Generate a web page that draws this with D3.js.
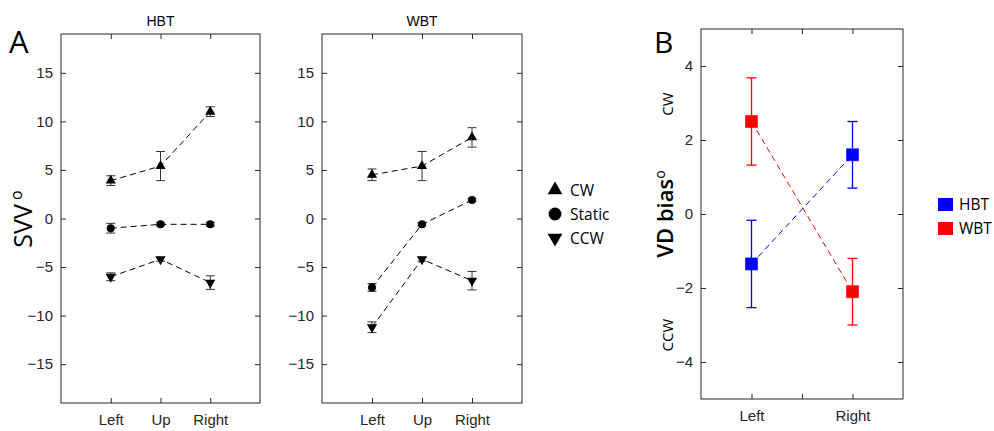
<!DOCTYPE html>
<html lang="en">
<head>
<meta charset="UTF-8">
<title>SVV / VD bias</title>
<script src="https://cdn.jsdelivr.net/npm/d3@7"></script>
<style>
  body { margin: 0; background: #fff; }
  .tick text { font-family: "Liberation Sans", Arial, sans-serif; font-size: 15px; fill: #262626; }
  .tick line { stroke: #262626; }
  .lab { font-family: "Open Sans", sans-serif; fill: #000; }
</style>
</head>
<body>
<script>
// ---- data ----
var conditions = ["Left", "Up", "Right"];
var rotations = ["CW", "Static", "CCW"];
var svvTicks = [-15, -10, -5, 0, 5, 10, 15];

// rows: CW, Static, CCW ; cols: Left, Up, Right
var hbtMeans = [[3.9, 5.4, 11.0], [-1.0, -0.6, -0.6], [-6.0, -4.2, -6.6]];
var hbtErrs  = [[0.5, 1.5, 0.5],  [0.5, 0.15, 0.2],  [0.4, 0.2, 0.7]];
var wbtMeans = [[4.5, 5.4, 8.35], [-7.1, -0.6, 1.9], [-11.2, -4.2, -6.4]];
var wbtErrs  = [[0.6, 1.5, 1.0],  [0.4, 0.15, 0.15], [0.55, 0.2, 0.95]];

var vdConditions = ["Left", "Right"];
var vdGroups = ["HBT", "WBT"];
var vdColors = ["#0000ff", "#ff0000"];
var vdTicks = [-4, -2, 0, 2, 4];
var vdMeans = [[-1.35, 1.6], [2.5, -2.1]];
var vdErrs  = [[1.18, 0.9], [1.18, 0.9]];

var svg = d3.select("body").append("svg")
    .attr("width", 994).attr("height", 431);
svg.append("rect").attr("width", 994).attr("height", 431).attr("fill", "#fff");

// draw a boxed MATLAB-ish axes
function boxAxes(g, x, y, xt, xfmt, yt) {
    var x0 = x.range()[0], x1 = x.range()[1], y0 = y.range()[0], y1 = y.range()[1];
    g.append("g").attr("transform", "translate(" + x0 + ",0)")
        .call(d3.axisLeft(y).tickValues(yt).tickSizeInner(-5).tickSizeOuter(0).tickPadding(8));
    g.append("g").attr("transform", "translate(" + x1 + ",0)")
        .call(d3.axisRight(y).tickValues(yt).tickSizeInner(-5).tickSizeOuter(0).tickFormat(""));
    g.append("g").attr("transform", "translate(0," + y0 + ")")
        .call(d3.axisBottom(x).tickValues(xt).tickSizeInner(-5).tickSizeOuter(0).tickPadding(11).tickFormat(xfmt));
    g.append("g").attr("transform", "translate(0," + y1 + ")")
        .call(d3.axisTop(x).tickValues(xt).tickSizeInner(-5).tickSizeOuter(0).tickFormat(""));
    g.selectAll(".domain").remove();
    g.append("rect").attr("x", x0).attr("y", y1).attr("width", x1 - x0).attr("height", y0 - y1)
        .attr("fill", "none").attr("stroke", "#262626").attr("stroke-width", 1);
}

var ySvv = d3.scaleLinear().domain([-19, 19]).range([403, 34]);
var markerTypes = [d3.symbolTriangle, d3.symbolCircle, d3.symbolTriangle];
var markerRot = [0, 0, 180];
var markerSize = [45, 50, 45];

function svvPanel(left, right, title, means, errs) {
    var x = d3.scaleLinear().domain([0, 4]).range([left, right]);
    var g = svg.append("g");
    boxAxes(g, x, ySvv, [1, 2, 3], function (d) { return conditions[d - 1]; }, svvTicks);
    g.append("text").attr("x", (left + right) / 2).attr("y", 26).attr("text-anchor", "middle")
        .style("font-family", "'Liberation Sans', Arial, sans-serif").style("font-size", "14px")
        .text(title);
    var line = d3.line().x(function (d, i) { return x(i + 1); }).y(function (d) { return ySvv(d); });
    means.forEach(function (row, r) {
        g.append("path").attr("d", line(row)).attr("fill", "none")
            .attr("stroke", "#000").attr("stroke-width", 1).attr("stroke-dasharray", "6,4");
        row.forEach(function (m, i) {
            var cx = x(i + 1), e = errs[r][i];
            var eb = g.append("g").attr("stroke", "#333").attr("stroke-width", 1);
            eb.append("line").attr("x1", cx).attr("x2", cx).attr("y1", ySvv(m - e)).attr("y2", ySvv(m + e));
            eb.append("line").attr("x1", cx - 4.5).attr("x2", cx + 4.5).attr("y1", ySvv(m - e)).attr("y2", ySvv(m - e));
            eb.append("line").attr("x1", cx - 4.5).attr("x2", cx + 4.5).attr("y1", ySvv(m + e)).attr("y2", ySvv(m + e));
            g.append("path").attr("d", d3.symbol().type(markerTypes[r]).size(markerSize[r])())
                .attr("transform", "translate(" + cx + "," + ySvv(m) + ") rotate(" + markerRot[r] + ")")
                .attr("fill", "#000");
        });
    });
}

svvPanel(61, 260, "HBT", hbtMeans, hbtErrs);
svvPanel(322, 522, "WBT", wbtMeans, wbtErrs);

// panel letters and y labels
svg.append("text").attr("class", "lab").attr("x", 9).attr("y", 53).style("font-size", "31px").text("A");
var svvLab = svg.append("text").attr("class", "lab")
    .attr("transform", "translate(32,219) rotate(-90)").attr("text-anchor", "middle")
    .style("font-size", "25px");
svvLab.append("tspan").text("SVV");
svvLab.append("tspan").attr("dy", "-0.6em").style("font-size", "16px").text(" o");

// legend A
rotations.forEach(function (r, i) {
    var cy = 190 + i * 24;
    svg.append("path").attr("d", d3.symbol().type(markerTypes[i]).size(i === 1 ? 130 : 95)())
        .attr("transform", "translate(555," + cy + ") rotate(" + markerRot[i] + ")").attr("fill", "#000");
    svg.append("text").attr("class", "lab").attr("x", 570).attr("y", cy + 5.5)
        .style("font-size", "15.5px").text(r);
});

// ---- panel B ----
var xB = d3.scaleLinear().domain([0.5, 2.5]).range([701, 903]);
var yB = d3.scaleLinear().domain([-5, 5]).range([399, 29]);
var gB = svg.append("g");
boxAxes(gB, xB, yB, [1, 1.5, 2], function (d) { return d === 1 ? vdConditions[0] : d === 2 ? vdConditions[1] : ""; }, vdTicks);

var lineB = d3.line().x(function (d, i) { return xB(i + 1); }).y(function (d) { return yB(d); });
vdGroups.forEach(function (grp, k) {
    var col = vdColors[k];
    gB.append("path").attr("d", lineB(vdMeans[k])).attr("fill", "none")
        .attr("stroke", col).attr("stroke-width", 1).attr("stroke-dasharray", "6,4");
    vdMeans[k].forEach(function (m, i) {
        var cx = xB(i + 1), e = vdErrs[k][i];
        var eb = gB.append("g").attr("stroke", col).attr("stroke-width", 1.3);
        eb.append("line").attr("x1", cx).attr("x2", cx).attr("y1", yB(m - e)).attr("y2", yB(m + e));
        eb.append("line").attr("x1", cx - 5).attr("x2", cx + 5).attr("y1", yB(m - e)).attr("y2", yB(m - e));
        eb.append("line").attr("x1", cx - 5).attr("x2", cx + 5).attr("y1", yB(m + e)).attr("y2", yB(m + e));
        gB.append("rect").attr("x", cx - 6).attr("y", yB(m) - 6).attr("width", 12).attr("height", 12)
            .attr("fill", col).attr("stroke", col).attr("stroke-opacity", 0.6);
    });
});

svg.append("text").attr("class", "lab").attr("x", 654).attr("y", 53).style("font-size", "30px").text("B");
var vdLab = svg.append("text").attr("class", "lab")
    .attr("transform", "translate(673,214) rotate(-90)").attr("text-anchor", "middle")
    .style("font-size", "22px").style("font-weight", 600);
vdLab.append("tspan").text("VD bias");
vdLab.append("tspan").attr("dy", "-0.6em").style("font-size", "14px").style("font-weight", 400).text("o");
svg.append("text").attr("class", "lab").attr("transform", "translate(673,104) rotate(-90)")
    .attr("text-anchor", "middle").style("font-size", "15px").text("CW");
svg.append("text").attr("class", "lab").attr("transform", "translate(673,335) rotate(-90)")
    .attr("text-anchor", "middle").style("font-size", "15px").text("CCW");

// legend B
vdGroups.forEach(function (grp, k) {
    var y0 = 198 + k * 24;
    svg.append("rect").attr("x", 938).attr("y", y0).attr("width", 15).attr("height", 13).attr("fill", vdColors[k]);
    svg.append("text").attr("class", "lab").attr("x", 959).attr("y", y0 + 12)
        .style("font-size", "15.5px").text(grp);
});
</script>
</body>
</html>
